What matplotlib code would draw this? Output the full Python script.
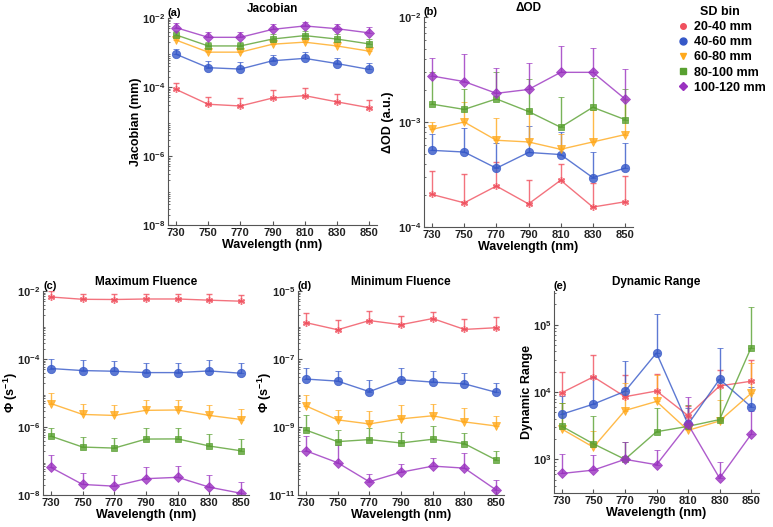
import numpy as np
import matplotlib
matplotlib.use("Agg")
import matplotlib.pyplot as plt
from matplotlib.ticker import LogLocator, NullFormatter, FixedLocator
from matplotlib.lines import Line2D

plt.rcParams['font.family'] = ['Liberation Sans', 'DejaVu Sans']
plt.rcParams['font.weight'] = 'bold'
plt.rcParams['mathtext.fontset'] = 'custom'
plt.rcParams['mathtext.rm'] = 'Liberation Sans:bold'
plt.rcParams['mathtext.bf'] = 'Liberation Sans:bold'
plt.rcParams['mathtext.it'] = 'Liberation Sans:bold:italic'
plt.rcParams['axes.linewidth'] = 0.8

wavelengths = [730, 750, 770, 790, 810, 830, 850]
bins = ["20-40 mm", "40-60 mm", "60-80 mm", "80-100 mm", "100-120 mm"]
colors = ["#f0505e", "#3558c8", "#ffa91c", "#58a030", "#9a32c0"]
markers = [(6, 2, 0), "o", "v", "s", "D"]
msizes = [5, 6, 6, 5, 5]

# (a) Jacobian, log10 values and upper bounds
jac_red = [-4.07, -4.50, -4.55, -4.32, -4.25, -4.43, -4.60]
jac_red_up = [-3.88, -4.30, -4.33, -4.09, -4.03, -4.21, -4.39]
jac_blue = [-3.05, -3.44, -3.48, -3.24, -3.17, -3.32, -3.49]
jac_blue_up = [-2.89, -3.25, -3.28, -3.07, -2.99, -3.15, -3.30]
jac_orange = [-2.64, -2.99, -2.99, -2.76, -2.70, -2.81, -2.96]
jac_orange_up = [-2.52, -2.87, -2.87, -2.64, -2.58, -2.69, -2.84]
jac_green = [-2.49, -2.81, -2.81, -2.61, -2.51, -2.61, -2.75]
jac_green_up = [-2.38, -2.69, -2.69, -2.47, -2.38, -2.47, -2.62]
jac_purple = [-2.28, -2.56, -2.56, -2.33, -2.23, -2.31, -2.43]
jac_purple_up = [-2.15, -2.40, -2.40, -2.18, -2.11, -2.16, -2.27]

# (b) Delta OD
dod_red = [-3.69, -3.77, -3.61, -3.78, -3.555, -3.81, -3.76]
dod_red_up = [-3.47, -3.50, -3.38, -3.55, -3.40, -3.58, -3.51]
dod_blue = [-3.27, -3.286, -3.44, -3.29, -3.31, -3.53, -3.44]
dod_blue_up = [-3.11, -3.06, -3.20, -3.04, -3.10, -3.29, -3.20]
dod_orange = [-3.07, -3.00, -3.174, -3.19, -3.26, -3.19, -3.12]
dod_orange_up = [-3.00, -2.81, -2.96, -2.89, -3.11, -2.89, -2.79]
dod_green = [-2.83, -2.88, -2.78, -2.90, -3.05, -2.86, -2.977]
dod_green_up = [-2.52, -2.69, -2.52, -2.59, -2.76, -2.58, -2.69]
dod_purple = [-2.562, -2.615, -2.727, -2.69, -2.527, -2.527, -2.78]
dod_purple_up = [-2.387, -2.349, -2.49, -2.44, -2.28, -2.30, -2.50]

# (c) Maximum fluence
maxf_red = [-2.176, -2.244, -2.25, -2.235, -2.235, -2.27, -2.30]
maxf_red_up = [-2.00, -2.08, -2.08, -2.08, -2.08, -2.10, -2.13]
maxf_blue = [-4.28, -4.34, -4.36, -4.40, -4.40, -4.35, -4.42]
maxf_blue_up = [-4.01, -4.035, -4.06, -4.13, -4.13, -4.035, -4.11]
maxf_orange = [-5.31, -5.63, -5.66, -5.51, -5.50, -5.66, -5.78]
maxf_orange_up = [-5.01, -5.33, -5.36, -5.22, -5.21, -5.36, -5.48]
maxf_green = [-6.27, -6.59, -6.62, -6.355, -6.35, -6.56, -6.70]
maxf_green_up = [-6.02, -6.30, -6.33, -6.04, -6.04, -6.22, -6.36]
maxf_purple = [-7.19, -7.69, -7.74, -7.52, -7.48, -7.77, -7.95]
maxf_purple_up = [-6.83, -7.34, -7.40, -7.17, -7.14, -7.42, -7.61]

# (d) Minimum fluence
minf_red = [-5.93, -6.14, -5.87, -5.99, -5.81, -6.13, -6.08]
minf_red_up = [-5.64, -5.85, -5.59, -5.735, -5.63, -5.82, -5.77]
minf_blue = [-7.59, -7.65, -7.96, -7.61, -7.68, -7.73, -7.98]
minf_blue_up = [-7.26, -7.35, -7.61, -7.27, -7.36, -7.40, -7.70]
minf_orange = [-8.38, -8.79, -8.91, -8.76, -8.67, -8.85, -8.97]
minf_orange_up = [-8.06, -8.50, -8.53, -8.35, -8.31, -8.45, -8.68]
minf_green = [-9.09, -9.43, -9.37, -9.47, -9.36, -9.49, -9.97]
minf_green_up = [-8.65, -9.09, -9.04, -9.14, -8.97, -9.17, -9.71]
minf_purple = [-9.70, -10.05, -10.61, -10.33, -10.15, -10.21, -10.85]
minf_purple_up = [-9.26, -9.53, -10.39, -10.09, -9.90, -9.77, -10.56]

# (e) Dynamic range
dr_red = [3.99, 4.225, 3.93, 4.015, 3.65, 4.09, 4.16]
dr_red_up = [4.29, 4.55, 4.25, 4.27, 3.79, 4.33, 4.48]
dr_blue = [3.67, 3.82, 4.01, 4.58, 3.52, 4.19, 3.78]
dr_blue_up = [3.94, 4.22, 4.46, 5.16, 3.76, 4.65, 4.08]
dr_orange = [3.45, 3.18, 3.725, 3.86, 3.43, 3.57, 3.98]
dr_orange_up = [3.83, 3.42, 4.13, 4.25, 3.54, 3.88, 4.43]
dr_green = [3.49, 3.23, 3.00, 3.41, 3.49, 3.59, 4.66]
dr_green_up = [3.84, 3.65, 3.25, 3.76, 3.81, 4.18, 5.26]
dr_purple = [2.79, 2.84, 3.00, 2.92, 3.52, 2.72, 3.37]
dr_purple_up = [3.08, 3.06, 3.25, 3.14, 3.93, 2.96, 3.72]

panels = [
    dict(label="(a)", title="Jacobian", ylabel="Jacobian (mm)",
         vals=[jac_red, jac_blue, jac_orange, jac_green, jac_purple],
         ups=[jac_red_up, jac_blue_up, jac_orange_up, jac_green_up, jac_purple_up],
         ylim=(1e-8, 1e-2), majors=[1e-8, 1e-6, 1e-4, 1e-2],
         pos=[168, 18, 377, 225], labx=142),
    dict(label="(b)", title="ΔOD", ylabel="ΔOD (a.u.)",
         vals=[dod_red, dod_blue, dod_orange, dod_green, dod_purple],
         ups=[dod_red_up, dod_blue_up, dod_orange_up, dod_green_up, dod_purple_up],
         ylim=(1e-4, 1e-2), majors=[1e-4, 1e-3, 1e-2],
         pos=[424, 17, 633, 227], labx=394),
    dict(label="(c)", title="Maximum Fluence", ylabel="Φ (s$^{-1}$)",
         vals=[maxf_red, maxf_blue, maxf_orange, maxf_green, maxf_purple],
         ups=[maxf_red_up, maxf_blue_up, maxf_orange_up, maxf_green_up, maxf_purple_up],
         ylim=(1e-8, 1e-2), majors=[1e-8, 1e-6, 1e-4, 1e-2],
         pos=[43, 291, 249, 495], labx=20),
    dict(label="(d)", title="Minimum Fluence", ylabel="Φ (s$^{-1}$)",
         vals=[minf_red, minf_blue, minf_orange, minf_green, minf_purple],
         ups=[minf_red_up, minf_blue_up, minf_orange_up, minf_green_up, minf_purple_up],
         ylim=(1e-11, 1e-5), majors=[1e-11, 1e-9, 1e-7, 1e-5],
         pos=[298, 291, 504, 495], labx=274),
    dict(label="(e)", title="Dynamic Range", ylabel="Dynamic Range",
         vals=[dr_red, dr_blue, dr_orange, dr_green, dr_purple],
         ups=[dr_red_up, dr_blue_up, dr_orange_up, dr_green_up, dr_purple_up],
         ylim=(10**2.5, 10**5.5), majors=[1e3, 1e4, 1e5],
         pos=[554, 291, 759, 493], labx=533),
]

W, H = 773, 527
fig = plt.figure(figsize=(W / 100, H / 100), dpi=100)
axis_col = "#555555"

for p in panels:
    x0, y0, x1, y1 = p["pos"]
    ax = fig.add_axes([x0 / W, 1 - y1 / H, (x1 - x0) / W, (y1 - y0) / H])
    for i in range(5):
        v = 10 ** np.array(p["vals"][i])
        u = 10 ** np.array(p["ups"][i])
        err = np.vstack([np.zeros_like(v), u - v])
        ax.errorbar(wavelengths, v, yerr=err, color=colors[i], marker=markers[i],
                    markersize=msizes[i], lw=1.0, elinewidth=1.0, capsize=2,
                    capthick=0.8, alpha=0.8,
                    markeredgewidth=1.0 if i == 0 else 0.6)
    ax.set_yscale("log")
    ax.set_ylim(*p["ylim"])
    ax.set_xlim(725, 855)
    ax.set_xticks(wavelengths)
    ax.yaxis.set_major_locator(FixedLocator(p["majors"]))
    ax.yaxis.set_minor_locator(LogLocator(base=10, subs=np.arange(2, 10) * 1.0, numticks=30))
    ax.yaxis.set_minor_formatter(NullFormatter())
    for s in ["top", "right"]:
        ax.spines[s].set_visible(False)
    for s in ["left", "bottom"]:
        ax.spines[s].set_color(axis_col)
    ax.tick_params(direction="in", which="both", colors=axis_col, labelcolor="#222222",
                   labelsize=8, length=3, pad=2)
    ax.tick_params(which="minor", length=1.5)
    ax.set_xlabel("Wavelength (nm)", fontsize=9, fontweight="bold", labelpad=1)
    ax.set_ylabel(p["ylabel"], fontsize=9, fontweight="bold")
    ax.yaxis.set_label_coords((p["labx"] - x0) / (x1 - x0), 0.5)
    ax.set_title(p["title"], fontsize=8.5, fontweight="bold", pad=4)
    ax.text(0.0, 1.0, p["label"], transform=ax.transAxes, ha="left", va="bottom",
            fontsize=8, fontweight="bold")

leg_markers = ["o", "o", "v", "s", "D"]
leg_sizes = [4, 5, 5, 4, 4]
handles = [Line2D([], [], color=colors[i], marker=leg_markers[i], linestyle="none",
                  markersize=leg_sizes[i]) for i in range(5)]
leg = fig.legend(handles, bins, loc="upper left", bbox_to_anchor=(670 / W, 1 - 1 / H),
                 frameon=False, title="SD bin", handletextpad=0.3,
                 labelspacing=0.25, handlelength=1.2, borderaxespad=0.0,
                 prop={"weight": "bold", "size": 9},
                 title_fontproperties={"weight": "bold", "size": 9})

fig.savefig("out.png", dpi=100)
